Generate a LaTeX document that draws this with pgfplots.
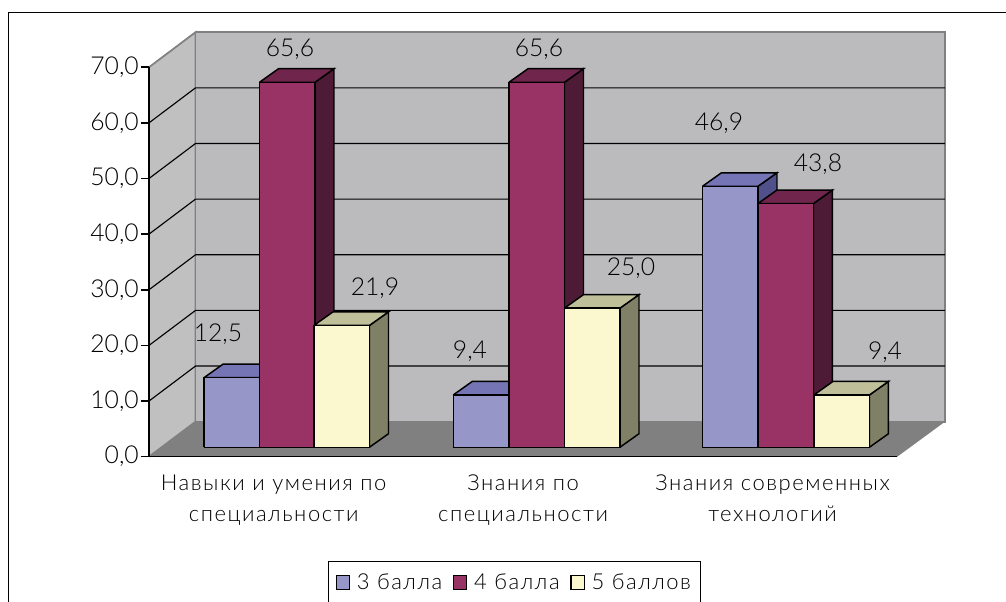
\documentclass[border=0pt]{standalone}
\usepackage{pgfplots}
\pgfplotsset{compat=1.18}
\usepackage{fontspec}
\setmainfont[LetterSpace=7,UprightFont={* Light}]{Lato}
\newfontfamily\numfont[UprightFont={* Light}]{Lato}

% Drawing units: the page is 1006 x 602 units.
\newcommand{\wally}{6.29}     % wall depth in value units
\newcommand{\barx}{19}        % bar depth
\newcommand{\bary}{2.43}      % bar depth in value units
\newcommand{\barbase}{1.70}   % bars stand this far in from the front of the floor
\newcommand{\barw}{55.5}

% One oblique bar: left edge, value, front / top / side colours.
\newcommand{\barbox}[5]{%
  \pgfmathsetmacro{\xa}{#1}%
  \pgfmathsetmacro{\xb}{#1+\barw}%
  \pgfmathsetmacro{\xc}{#1+\barw+\barx}%
  \pgfmathsetmacro{\xd}{#1+\barx}%
  \pgfmathsetmacro{\ya}{\barbase}%
  \pgfmathsetmacro{\yb}{#2+\barbase}%
  \pgfmathsetmacro{\yc}{\barbase+\bary}%
  \pgfmathsetmacro{\yd}{#2+\barbase+\bary}%
  \edef\temp{%
    \noexpand\addplot[barface,fill=#5] coordinates {(\xb,\ya) (\xc,\yc) (\xc,\yd) (\xb,\yb) (\xb,\ya)};
    \noexpand\addplot[barface,fill=#4] coordinates {(\xa,\yb) (\xd,\yd) (\xc,\yd) (\xb,\yb) (\xa,\yb)};
    \noexpand\addplot[barface,fill=#3] coordinates {(\xa,\ya) (\xb,\ya) (\xb,\yb) (\xa,\yb) (\xa,\ya)};
  }\temp
}
% One gridline across the side wall and the back wall.
\newcommand{\gridat}[1]{%
  \pgfmathsetmacro{\yt}{#1+\wally}%
  \edef\temp{%
    \noexpand\addplot[gridl] coordinates {(149,#1) (195.5,\yt) (945,\yt)};
  }\temp
}
% A value label, placed from the top-left corner of the page.
\newcommand{\vlab}[3]{\node[val] at (#1,{602-#2}) {#3};}

\definecolor{backwall}{HTML}{BBBBBD}
\definecolor{sidewall}{HTML}{C0C0C0}
\definecolor{floorc}{HTML}{808080}
\definecolor{bluef}{HTML}{9696C8}
\definecolor{bluet}{HTML}{7575B5}
\definecolor{blues}{HTML}{50508A}
\definecolor{marf}{HTML}{993366}
\definecolor{mart}{HTML}{70264C}
\definecolor{mars}{HTML}{4E1B36}
\definecolor{yelf}{HTML}{FBF7CF}
\definecolor{yelt}{HTML}{BFBF99}
\definecolor{yels}{HTML}{808066}

\pgfplotsset{
  barface/.style={draw=black,line width=1.1pt,line join=miter,mark=none,forget plot},
  gridl/.style={draw=black,line width=0.85pt,mark=none,forget plot},
  wall/.style={draw=floorc,line width=1.3pt,mark=none,forget plot},
  swatch/.style={legend image code/.code={%
    \draw[draw=black,line width=0.9pt,fill=#1] (0pt,-4.75pt) rectangle (10pt,5.25pt);}},
}

\begin{document}
\begin{tikzpicture}[x=0.75pt,y=0.75pt]
\clip (0,0) rectangle (1006,602);
\useasboundingbox (0,0) rectangle (1006,602);
\fill[white] (0,0) rectangle (1006,602);
\draw[black,line width=1pt] (1040,589.5) -- (8.5,589.5) -- (8.5,-40);
\begin{axis}[
  at={(111.75pt,108.975pt)}, anchor=south west,
  scale only axis, width=561.2pt, height=292.1pt,
  clip=false, axis on top,
  xmin=149, xmax=897.3, ymin=0, ymax=70,
  axis x line=bottom, axis y line=left,
  axis line style={-,black,line width=1.1pt},
  ytick={0,10,...,70},
  /pgf/number format/fixed,
  /pgf/number format/fixed zerofill,
  /pgf/number format/precision=1,
  /pgf/number format/use comma,
  /pgf/number format/assume math mode=true,
  yticklabel style={font=\numfont\fontsize{18.5pt}{20pt}\selectfont,text=black,inner sep=0pt,xshift=-1.5pt},
  tick style={black,line width=1.1pt},
  ytick align=outside, major tick length=6pt,
  xtick={273.7,523.1,772.6},
  xticklabels={{Навыки и умения по\\специальности},{Знания по\\специальности},{Знания современных\\технологий}},
  xticklabel style={font=\fontsize{16.5pt}{23.3pt}\selectfont,align=center,text=black,yshift=-7pt},
  x tick style={draw=none},
  extra x ticks={149,398.4,647.9,897.3},
  extra x tick labels={},
  extra x tick style={tick style={black,line width=1.1pt},xtick align=outside},
  legend columns=3,
  legend style={at={(axis cs:328.3,-18.69)},anchor=north west,draw=black,line width=0.9pt,
    font=\fontsize{16.5pt}{18pt}\selectfont,text=black,inner xsep=5pt,inner ysep=7.5pt,
    /tikz/every even column/.append style={column sep=6pt},
    /tikz/every odd column/.append style={column sep=3pt}},
]
% Walls and floor
\addplot[wall,fill=floorc,draw=none] coordinates {(149,0) (195.5,6.29) (945,6.29) (897.3,0) (149,0)};
\addplot[wall,fill=sidewall] coordinates {(149,0) (195.5,6.29) (195.5,76.29) (149,70) (149,0)};
\addplot[wall,fill=backwall] coordinates {(195.5,6.29) (945,6.29) (945,76.29) (195.5,76.29) (195.5,6.29)};
\gridat{10}\gridat{20}\gridat{30}\gridat{40}\gridat{50}\gridat{60}

% Cluster 1
\barbox{204}{12.5}{bluef}{bluet}{blues}
\barbox{259.5}{65.6}{marf}{mart}{mars}
\barbox{314}{21.9}{yelf}{yelt}{yels}
% Cluster 2
\barbox{453.3}{9.4}{bluef}{bluet}{blues}
\barbox{509}{65.6}{marf}{mart}{mars}
\barbox{564.5}{25.0}{yelf}{yelt}{yels}
% Cluster 3
\barbox{702.5}{46.9}{bluef}{bluet}{blues}
\barbox{758}{43.8}{marf}{mart}{mars}
\barbox{814}{9.4}{yelf}{yelt}{yels}

\addlegendimage{swatch=bluef}\addlegendentry{3 балла}
\addlegendimage{swatch=marf}\addlegendentry{4 балла}
\addlegendimage{swatch=yelf}\addlegendentry{5 баллов}
\end{axis}
% Value labels
\tikzset{val/.style={font=\numfont\fontsize{18.5pt}{20pt}\selectfont,text=black,inner sep=0pt}}
\vlab{218}{334}{12,5}
\vlab{290}{49}{65,6}
\vlab{375}{288}{21,9}
\vlab{470}{351}{9,4}
\vlab{539}{49}{65,6}
\vlab{631}{268}{25,0}
\vlab{719}{123}{46,9}
\vlab{818}{164}{43,8}
\vlab{885}{352}{9,4}
\end{tikzpicture}
\end{document}
